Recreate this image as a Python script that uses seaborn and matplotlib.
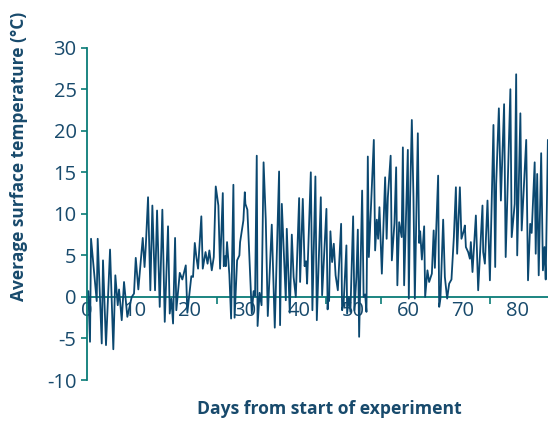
import numpy as np
import pandas as pd
import matplotlib
matplotlib.use("Agg")
import matplotlib.pyplot as plt
import seaborn as sns

# ---- data ----
days = [
    1.41, 1.72, 1.91, 2.95, 3.13, 3.87, 4.10, 4.65, 5.39, 5.99, 6.36, 6.80, 7.04, 7.53, 7.95, 8.56,
    9.36, 9.78, 10.10, 10.57, 11.38, 11.71, 11.93, 12.35,
    12.77, 13.14, 13.63, 14.00, 14.49, 14.97, 15.41, 16.01, 16.32, 16.62, 16.93, 17.30, 17.53,
    18.16, 18.63, 19.26, 19.55, 20.28, 20.59, 20.91, 21.20, 21.51, 22.11,
    22.37, 22.88, 23.25, 23.58, 24.02, 24.39, 24.75, 25.23, 25.54, 26.04, 26.22, 26.46, 26.59,
    26.82, 27.24, 27.56, 27.98, 28.20, 28.66, 29.08, 29.21, 29.81, 30.07, 30.18, 30.54, 31.35,
    31.68, 31.95, 32.26, 32.41, 32.78, 33.14, 33.51,
    33.91, 34.28, 35.01, 35.56, 36.35, 36.53, 36.85, 37.58, 37.76, 38.31, 38.68, 39.01, 39.41,
    40.02, 40.20, 40.69, 41.02, 41.30, 41.48, 42.16, 42.45, 43.00, 43.26, 43.99, 44.23,
    45.02, 45.24, 45.33, 45.51, 45.75, 46.06, 46.37, 46.70, 47.11, 47.71, 47.89, 48.17, 48.68,
    48.81, 49.12, 49.41, 49.91, 50.15, 50.51, 50.77, 51.01, 51.56, 51.83, 52.11, 52.35, 52.60,
    52.79, 53.70, 53.94, 54.25, 54.49, 54.73, 55.17, 55.77, 56.05, 56.27, 56.78, 57.00, 57.48,
    57.79, 58.01, 58.34, 58.80, 59.02, 59.25, 59.93, 60.11, 60.35, 60.66, 60.96, 61.21, 61.76,
    62.00, 62.19, 62.50, 62.92, 63.10, 63.52, 63.83, 64.33, 64.66, 64.88, 65.48, 65.67, 65.90,
    66.40, 66.71, 67.13, 67.50, 67.92, 68.36, 68.73, 68.96, 69.46, 69.75, 70.19, 70.37, 70.56,
    70.98, 71.29, 71.47, 71.77, 72.39, 72.81, 73.60, 73.73, 74.04, 74.52, 74.96, 75.61, 75.93,
    76.11, 76.60, 76.97, 77.56, 77.85, 78.71, 78.95, 79.50, 79.77, 79.96, 80.54, 80.78, 81.61,
    81.94, 82.34, 82.61, 83.16, 83.35, 83.62, 83.90, 84.35, 84.67, 84.96, 85.18, 85.58,
]
temps = [
    0.7, -5.4, 7.0, -0.5, 7.0, -5.6, 4.4, -5.8, 5.7, -6.3, 2.6, -1.0, 0.9, -2.8, 1.8, -2.4,
    0.0, 0.4, 4.7, 0.9, 7.1, 3.6, 6.0, 12.0,
    0.8, 11.0, 0.8, 10.4, -1.2, 10.5, -3.0, 8.5, -2.0, -0.2, -3.2, 7.1, -1.6,
    2.9, 2.1, 3.8, -1.9, 2.5, 2.4, 6.5, 4.8, 3.4, 9.7,
    3.4, 5.4, 4.0, 5.6, 3.2, 4.8, 13.3, 11.0, 3.4, 12.5, 3.7, 4.9, 3.7,
    6.6, 2.7, -2.6, 13.5, -2.5, 4.4, 5.0, 6.6, 9.2, 12.6, 11.2, 10.5, -2.0,
    0.7, 0.1, 17.0, -3.5, 0.5, -1.0, 16.2,
    9.3, -2.3, 8.7, -3.7, 15.1, -3.4, 11.2, -0.4, 8.2, -1.9, 7.5, 2.4, 0.0,
    11.9, 1.8, 11.8, 3.7, 4.3, 1.6, 15.0, -1.6, 14.5, -2.8, 12.0, 0.2,
    10.6, -1.5, 0.0, -0.5, 7.9, 4.2, 6.4, 2.6, 0.8, 8.8, -1.6, -0.8, 6.2,
    -2.0, 0.0, -1.8, 9.7, -1.6, 2.4, 8.1, -4.8, 12.8, 0.0, 0.3, -1.8, 16.9,
    4.8, 18.9, 5.6, 9.3, 7.0, 10.8, 2.8, 14.4, 7.0, 12.0, 17.0, 4.4, 8.9,
    15.6, 1.4, 9.0, 7.2, 18.0, 1.4, 17.7, -0.2, 12.0, 21.3, 12.0, -0.2, 19.7,
    6.5, 7.9, 4.5, 8.5, 0.0, 3.2, 1.8, 2.8, 8.0, 3.5, 14.6, -1.2, -0.2,
    9.3, 2.4, -0.2, 1.6, 2.1, 7.2, 13.2, 5.2, 13.2, 7.0, 8.0, 8.6, 6.0,
    5.4, 4.6, 6.6, 3.0, 9.8, 0.8, 11.0, 5.4, 4.0, 11.6, 2.0, 20.7, 3.6,
    13.6, 22.7, 11.6, 23.2, 4.8, 25.0, 7.2, 11.2, 26.8, 5.0, 22.1, 8.0, 18.9,
    2.0, 8.8, 7.7, 16.2, 5.2, 14.8, 2.6, 17.3, 3.2, 6.0, 2.1, 18.9,
]
x_label_ticks = [1.17, 10, 20, 30, 40, 50, 60, 70, 80]
x_tick_labels = ["0", "10", "20", "30", "40", "50", "60", "70", "80"]
x_tick_marks = [10, 25, 30, 40, 45, 55, 60, 70, 75, 80]
y_ticks = [-10, -5, 0, 5, 10, 15, 20, 25, 30]
x_title = "Days from start of experiment"
y_title = "Average surface temperature (°C)"

# ---- style ----
LINE = "#0b4870"
TEXT = "#184a6c"
AXIS = "#0a7c77"

sns.set_style("white")
plt.rcParams["font.family"] = ["Open Sans", "DejaVu Sans"]

W, H = 548, 422
fig = plt.figure(figsize=(W / 100, H / 100), dpi=100)
ax = fig.add_axes([87 / W, 1 - 380 / H, 1 - 87 / W, (380 - 47.7) / H])

df = pd.DataFrame({"day": days, "temp": temps})
sns.lineplot(data=df, x="day", y="temp", ax=ax, color=LINE, linewidth=1.3,
             estimator=None, sort=False)

ax.set_xlim(1.17, 85.6)
ax.set_ylim(-10, 30)

for s in ["top", "right"]:
    ax.spines[s].set_visible(False)
ax.spines["left"].set_color(AXIS)
ax.spines["left"].set_linewidth(1.3)
ax.spines["bottom"].set_position(("data", 0))
ax.spines["bottom"].set_color(AXIS)
ax.spines["bottom"].set_linewidth(1.3)
ax.spines["bottom"].set_zorder(0.5)

ax.set_yticks(y_ticks)
ax.set_yticklabels([str(v) for v in y_ticks])
ax.tick_params(axis="y", direction="out", length=4.5, width=1.2, color=AXIS,
               labelcolor=TEXT, labelsize=14.5, pad=3, left=True)

ax.set_xticks(x_label_ticks)
ax.set_xticklabels(x_tick_labels)
ax.set_xticks(x_tick_marks, minor=True)
ax.tick_params(axis="x", which="major", length=0, labelcolor=TEXT, labelsize=14.5, pad=3)
ax.tick_params(axis="x", which="minor", direction="out", length=5, width=1.2,
               color=AXIS, bottom=True)

ax.set_xlabel("")
ax.set_ylabel("")
ax.grid(False)
ax.set_facecolor("none")

fig.text(329 / W, 1 - 409 / H, x_title, ha="center", va="center",
         fontsize=12.6, fontweight="bold", color=TEXT)
fig.text(19 / W, 1 - 156 / H, y_title, ha="center", va="center", rotation=90,
         fontsize=12.5, fontweight="bold", color=TEXT)

fig.savefig("out.png", dpi=100)
